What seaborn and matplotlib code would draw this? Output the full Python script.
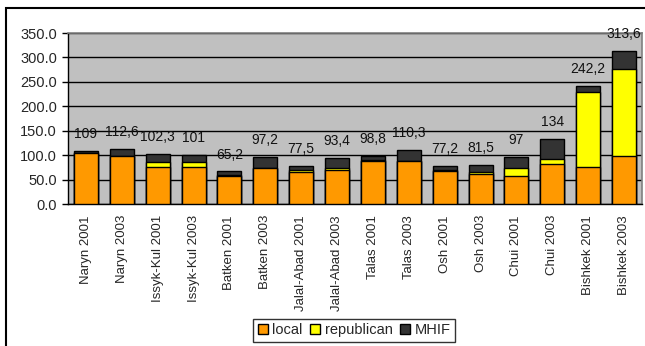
import numpy as np
import pandas as pd
import seaborn as sns
from matplotlib import pyplot as plt
from matplotlib.patches import Patch, Rectangle
from matplotlib.ticker import FormatStrFormatter, FixedLocator

# region / year categories
categories = ["Naryn 2001", "Naryn 2003", "Issyk-Kul 2001", "Issyk-Kul 2003",
              "Batken 2001", "Batken 2003", "Jalal-Abad 2001", "Jalal-Abad 2003",
              "Talas 2001", "Talas 2003", "Osh 2001", "Osh 2003",
              "Chui 2001", "Chui 2003", "Bishkek 2001", "Bishkek 2003"]

# components
local = [104, 99, 75, 75, 58, 73, 66, 70, 88, 88, 67, 62, 58, 82, 75, 99]
republican = [0, 0, 10, 10, 2, 1, 4, 4, 2, 1, 2, 3, 16, 11, 154, 178]
mhif = [5, 14, 17, 16, 7, 23, 8, 20, 8, 22, 9, 15, 23, 41, 13, 37]

# totals as printed above the bars
totals = [109, 112.6, 102.3, 101, 65.2, 97.2, 77.5, 93.4,
          98.8, 110.3, 77.2, 81.5, 97, 134, 242.2, 313.6]

sns.set_theme(style="white")
plt.rcParams['font.family'] = ['Liberation Sans', 'DejaVu Sans']

df = pd.DataFrame({"cat": categories, "local": local,
                   "republican": republican, "mhif": mhif})
df["lr"] = df["local"] + df["republican"]
df["all"] = df["lr"] + df["mhif"]

c_local = "#FF9900"
c_rep = "#FFFF00"
c_mhif = "#333333"

fig = plt.figure(figsize=(6.45, 3.46), dpi=100)
ax = fig.add_axes([0.1054, 0.4104, 0.8899, 0.4942])
ax.set_facecolor("#C0C0C0")

bw = 0.67
sns.barplot(data=df, x="cat", y="all", color=c_mhif, saturation=1, width=bw,
            edgecolor="black", linewidth=1, ax=ax, zorder=3)
sns.barplot(data=df, x="cat", y="lr", color=c_rep, saturation=1, width=bw,
            edgecolor="black", linewidth=1, ax=ax, zorder=3)
sns.barplot(data=df, x="cat", y="local", color=c_local, saturation=1, width=bw,
            edgecolor="black", linewidth=1, ax=ax, zorder=3)

# value labels
for i, (t, top) in enumerate(zip(totals, df["all"])):
    lab = f"{t:g}".replace(".", ",")
    ax.annotate(lab, (i, top), xytext=(0, 7), textcoords="offset points",
                ha="center", va="bottom", fontsize=10, color="#111111")

ax.set_ylim(0, 350)
ax.set_xlim(-0.5, len(categories) - 0.5)
ax.set_yticks(np.arange(0, 351, 50))
ax.yaxis.set_major_formatter(FormatStrFormatter("%.1f"))
ax.grid(axis="y", color="black", linewidth=1, zorder=0)
ax.set_axisbelow(True)
ax.set_xlabel("")
ax.set_ylabel("")

# category labels in the middle, tick marks between the bars
ax.set_xticks(np.arange(len(categories)))
ax.set_xticklabels(categories, rotation=90, fontsize=9.5)
ax.xaxis.set_minor_locator(FixedLocator(np.arange(-0.5, len(categories), 1)))
ax.tick_params(axis="x", which="major", length=0, pad=8)
ax.tick_params(axis="x", which="minor", length=4, width=1, color="black", direction="out")
ax.tick_params(axis="y", length=4, width=1, color="black", direction="out",
               labelsize=10.5, pad=4, left=True)

for s in ["top", "right"]:
    ax.spines[s].set_color("#808080")
    ax.spines[s].set_linewidth(1.2)
for s in ["left", "bottom"]:
    ax.spines[s].set_color("black")
    ax.spines[s].set_linewidth(1)

handles = [Patch(facecolor=c_local, edgecolor="black", label="local"),
           Patch(facecolor=c_rep, edgecolor="black", label="republican"),
           Patch(facecolor=c_mhif, edgecolor="black", label="MHIF")]
leg = fig.legend(handles=handles, loc="center", bbox_to_anchor=(0.549, 0.0448),
                 ncol=3, fontsize=10.5, frameon=True, fancybox=False,
                 handlelength=0.7, handleheight=0.7, handletextpad=0.3,
                 columnspacing=0.5, borderpad=0.3, borderaxespad=0)
leg.get_frame().set_edgecolor("black")
leg.get_frame().set_linewidth(1)

# outer chart frame
fig.patches.append(Rectangle((6 / 645, -0.1), 1.1, 1 - 8 / 346 + 0.1,
                             transform=fig.transFigure, fill=False,
                             edgecolor="black", linewidth=1.5))

fig.savefig("out.png", dpi=100)
